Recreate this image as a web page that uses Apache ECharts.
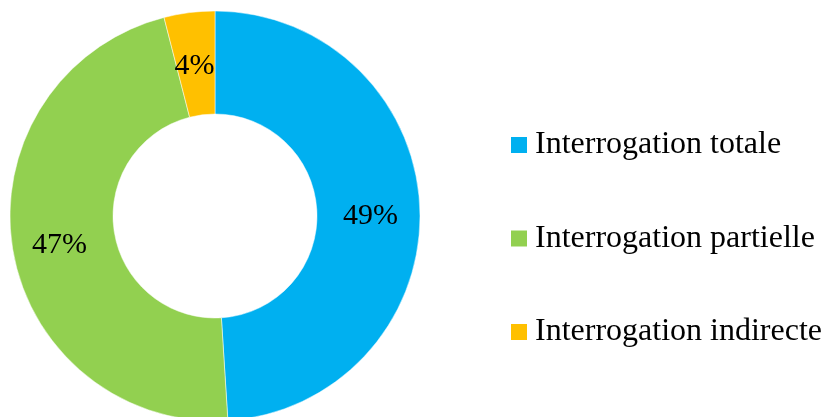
<!DOCTYPE html>
<html>
<head>
<meta charset="utf-8">
<script src="https://cdn.jsdelivr.net/npm/echarts@6/dist/echarts.min.js"></script>
<style>
  html, body { margin: 0; padding: 0; background: #fff; }
  #main { width: 824px; height: 417px; }
</style>
</head>
<body>
<div id="main"></div>
<script>
// data
const categories = ["Interrogation totale", "Interrogation partielle", "Interrogation indirecte"];
const values = [49, 47, 4];
const colors = ["#00B0F0", "#92D050", "#FFC000"];

const myChart = echarts.init(document.getElementById("main"));
const option = {
  animation: false,
  color: colors,
  legend: {
    orient: "vertical",
    left: 506,
    top: 124,
    itemWidth: 16,
    itemHeight: 16,
    itemGap: 61.5,
    itemStyle: { borderWidth: 0 },
    icon: "rect",
    textStyle: {
      fontFamily: "Liberation Serif",
      fontSize: 32,
      lineHeight: 32,
      padding: [0, 0, 0, 3],
      color: "#000"
    },
    data: categories
  },
  series: [
    {
      type: "pie",
      center: [215, 216],
      radius: [102, 205],
      startAngle: 90,
      clockwise: true,
      itemStyle: { borderColor: "#fff", borderWidth: 0.5 },
      label: {
        show: true,
        position: "inside",
        formatter: "{c}%",
        fontFamily: "Liberation Serif",
        fontSize: 30,
        offset: [-1, 5],
        color: "#000"
      },
      labelLine: { show: false },
      data: categories.map((name, i) => ({ name: name, value: values[i] }))
    }
  ]
};
myChart.setOption(option);
</script>
</body>
</html>
